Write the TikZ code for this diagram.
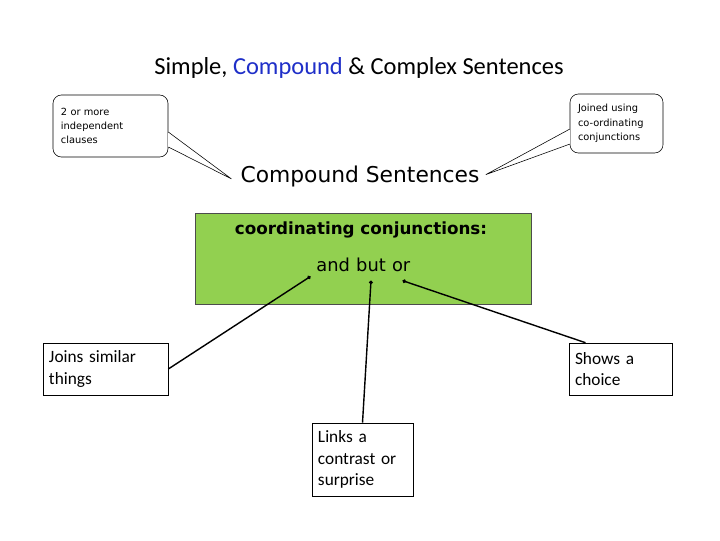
\documentclass[tikz,border=0pt]{standalone}
\usepackage{fontspec}
\setmainfont{Carlito}
\newfontfamily\comicfont{DejaVu Sans}
\usetikzlibrary{arrows.meta,positioning}
\definecolor{Leaf}{HTML}{92D050}
\definecolor{TitleBlue}{HTML}{1F2FC8}

\begin{document}
\begin{tikzpicture}[x=0.025cm,y=-0.025cm,>=Latex]
    \tikzset{
      label/.style={draw,thin,align=left,inner xsep=0.15cm,
        font=\fontsize{12.3}{15.5}\selectfont},
      callout/.style={label,rounded corners=6pt,inner xsep=0.2cm,
        font=\comicfont\fontsize{7}{10.2}\selectfont},
      word/.style={inner sep=0pt,text height=9pt,text depth=2pt,
        font=\comicfont\fontsize{12.7}{14}\selectfont},
      link/.style={{Circle[length=2.6pt]}-,line width=1pt}
    }
    \useasboundingbox (0,0) rectangle (720,540);
    % title
    \node[font=\fontsize{17.4}{19}\selectfont] (title) at (359,68)
      {Simple, \textcolor{TitleBlue}{Compound} \& Complex Sentences};
    \node[font=\comicfont\fontsize{15.5}{18}\selectfont] (cs) at (360,176)
      {Compound Sentences};
    % speech bubbles
    \node[callout,minimum height=1.55cm,text width=2.475cm] (lnote) at (110.5,126)
      {2 or more\\independent\\clauses};
    \node[callout,minimum height=1.475cm,text width=1.925cm] (rnote) at (616.5,123.5)
      {Joined using\\co-ordinating\\conjunctions};
    \coordinate (ltip) at ([xshift=-3pt,yshift=-2pt]cs.west);
    \coordinate (rtip) at ([xshift=1pt,yshift=1pt]cs.east);
    \draw[white,line width=1pt] ([yshift=-0.15cm]lnote.east) -- ([yshift=-0.525cm]lnote.east);
    \draw[thin] ([yshift=-0.15cm]lnote.east) -- (ltip) -- ([yshift=-0.525cm]lnote.east);
    \draw[white,line width=1pt] ([yshift=-0.14cm]rnote.west) -- ([yshift=-0.515cm]rnote.west);
    \draw[thin] ([yshift=-0.14cm]rnote.west) -- (rtip) -- ([yshift=-0.515cm]rnote.west);
    % green panel
    \node[draw=black!70,fill=Leaf,minimum width=8.4cm,minimum height=2.275cm] (panel) at (363,258.5) {};
    \node[font=\comicfont\bfseries\fontsize{11.9}{13}\selectfont] (conj) at (361,230)
      {coordinating conjunctions:};
    \node[word] (but) at (371,267) {but};
    \node[word,left=4pt of but] (and) {and};
    \node[word,right=4pt of but] (or) {or};
    % explanation boxes
    \node[label,minimum height=1.3cm,text width=2.825cm] (joins) at (105.5,369)
      {Joins similar\\things};
    \node[label,minimum height=1.825cm,text width=2.225cm] (links) at (362.5,459.5)
      {Links a\\contrast or\\surprise};
    \node[label,minimum height=1.3cm,text width=2.275cm] (shows) at (620.5,369)
      {Shows a\\choice};
    \draw[link] ([xshift=-4pt,yshift=-1pt]and.south west) -- (joins.east);
    \draw[link] ([yshift=-4pt]but.south) -- (links.north);
    \draw[link] ([xshift=1pt,yshift=-4pt]or.south) -- ([xshift=0.42cm]shows.north west);
\end{tikzpicture}
\end{document}
